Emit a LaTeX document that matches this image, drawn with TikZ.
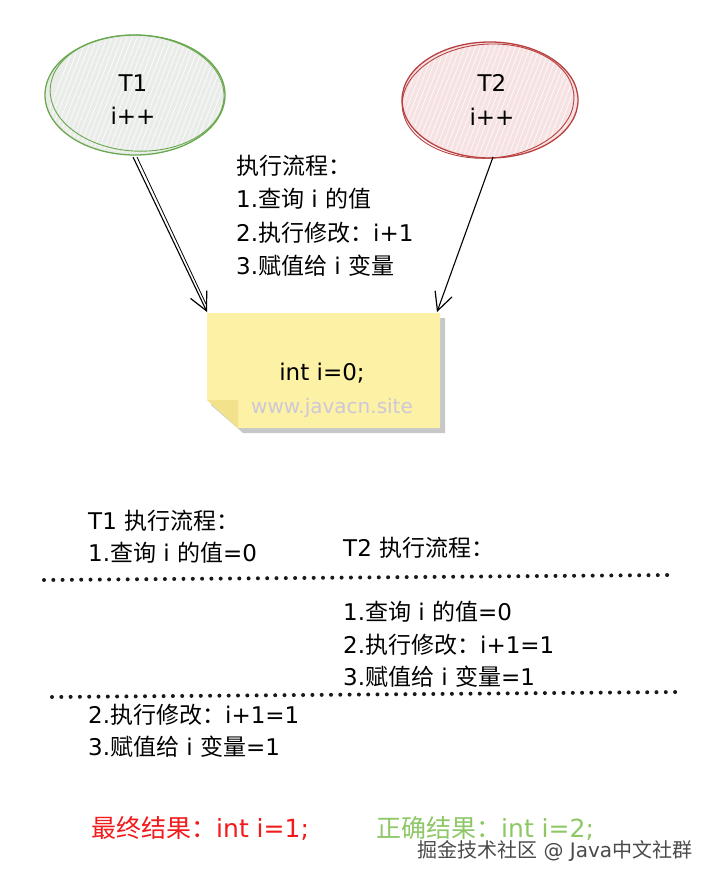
\documentclass[tikz,border=0pt]{standalone}
\usepackage{fontspec}
\setmainfont{DejaVu Sans}
\newfontfamily\cjk{Noto Sans CJK SC}
\newcommand\zh[1]{{\cjk #1}}
\usetikzlibrary{arrows.meta,calc}
\definecolor{tonegreen}{HTML}{6AA84F}
\definecolor{tonegreenfill}{HTML}{E9ECE8}
\definecolor{tonered}{HTML}{B84040}
\definecolor{toneredfill}{HTML}{F6E2E2}
\definecolor{noteyellow}{HTML}{FCF1A4}
\definecolor{notefold}{HTML}{F2E28C}
\definecolor{wmark}{HTML}{CCC8DA}
\definecolor{resred}{HTML}{F21A1A}
\definecolor{resgreen}{HTML}{8DC766}
\definecolor{footgray}{HTML}{4A4A4A}
\tikzset{
  txt/.style={anchor=west,inner sep=0pt,font=\fontsize{23}{27}\selectfont},
  lbl/.style={inner sep=0pt,font=\fontsize{23}{27}\selectfont},
  sketcharrow/.style={draw=black,line width=1.1pt,-{Straight Barb[length=18pt,width=18pt,line width=1.2pt]}},
  dotline/.style={line width=4pt,line cap=round,dash pattern=on 0pt off 9.3pt,color=black!90},
}
\begin{document}
\begin{tikzpicture}[x=1pt,y=-1pt]
\useasboundingbox (0,0) rectangle (719,882);
% ---------- T1 ellipse ----------
\fill[tonegreenfill] (135,95) ellipse [x radius=90,y radius=60];
\begin{scope}
\clip (135,95) ellipse [x radius=88,y radius=58];
\foreach \k in {0,5,...,300}{
  \draw[white,line width=0.8pt,opacity=0.8] (30+\k,160) -- (80+\k,30);
}
\end{scope}
\draw[tonegreen,line width=1.3pt] (135,95) ellipse [x radius=90,y radius=60];
\draw[tonegreen,line width=0.9pt,rotate around={-3:(135,95)}] (137,93) ellipse [x radius=87,y radius=58];
\node[lbl] (t1) at (133,83) {T1};
\node[lbl] (t1b) at (133,116) {i++};
% ---------- T2 ellipse ----------
\fill[toneredfill] (490,100) ellipse [x radius=88,y radius=58];
\begin{scope}
\clip (490,100) ellipse [x radius=86,y radius=56];
\foreach \k in {0,5,...,300}{
  \draw[white,line width=0.8pt,opacity=0.8] (380+\k,165) -- (430+\k,35);
}
\end{scope}
\draw[tonered,line width=1.3pt] (490,100) ellipse [x radius=88,y radius=58];
\draw[tonered,line width=0.9pt,rotate around={4:(490,100)}] (488,101) ellipse [x radius=86,y radius=57];
\node[lbl] (t2) at (492,83) {T2};
\node[lbl] (t2b) at (492,117) {i++};
% ---------- flow text ----------
\node[txt] (f0) at (236,166) {\zh{执行流程：}};
\node[txt] (f1) at (236,199) {1.\zh{查询} i \zh{的值}};
\node[txt] (f2) at (236,233) {2.\zh{执行修改：}i+1};
\node[txt] (f3) at (236,266) {3.\zh{赋值给} i \zh{变量}};
% ---------- sticky note ----------
\fill[black!22] (211,318) -- (445,318) -- (445,433) -- (243,433) -- (211,405) -- cycle;
\fill[noteyellow] (207,313) -- (440,313) -- (440,428) -- (238,428) -- (207,400) -- cycle;
\fill[notefold] (207,400) -- (238,400) -- (238,428) -- cycle;
\node[lbl,font=\fontsize{23}{27}\selectfont] (code) at (322,373) {int i=0;};
\node[lbl,font=\fontsize{20}{24}\selectfont,text=wmark] (wm) at (332,408) {www.javacn.site};
% ---------- arrows ----------
\coordinate (a1s) at (133,157);
\coordinate (a1e) at (207,312);
\coordinate (a2s) at (493,157);
\coordinate (a2e) at (437,312);
\draw[sketcharrow] (a1s) -- (a1e);
\draw[black,line width=0.8pt] ($(a1s)+(4,0)$) -- ($(a1e)+(-1,-8)$);
\draw[sketcharrow] (a2s) -- (a2e);
% ---------- lower section ----------
\node[txt] (l1) at (88,521) {T1 \zh{执行流程：}};
\node[txt] (l2) at (88,553) {1.\zh{查询} i \zh{的值}=0};
\node[txt] (r0) at (343,548) {T2 \zh{执行流程：}};
\coordinate (d1a) at (44,580);
\coordinate (d1b) at (671,575);
\draw[dotline] (d1a) -- (d1b);
\node[txt] (r1) at (343,612) {1.\zh{查询} i \zh{的值}=0};
\node[txt] (r2) at (343,645) {2.\zh{执行修改：}i+1=1};
\node[txt] (r3) at (343,677) {3.\zh{赋值给} i \zh{变量}=1};
\coordinate (d2a) at (52,697);
\coordinate (d2b) at (679,692);
\draw[dotline] (d2a) -- (d2b);
\node[txt] (l3) at (88,715) {2.\zh{执行修改：}i+1=1};
\node[txt] (l4) at (88,747) {3.\zh{赋值给} i \zh{变量}=1};
% ---------- results ----------
\node[txt,text=resred,font=\fontsize{25}{29}\selectfont] (res1) at (91,828) {\zh{最终结果：}int i=1;};
\node[txt,text=resgreen,font=\fontsize{25}{29}\selectfont] (res2) at (376,828) {\zh{正确结果：}int i=2;};
\node[txt,text=footgray,font=\fontsize{20}{24}\selectfont] (foot) at (417,851) {\zh{掘金技术社区} @ Java\zh{中文社群}};
\end{tikzpicture}
\end{document}
